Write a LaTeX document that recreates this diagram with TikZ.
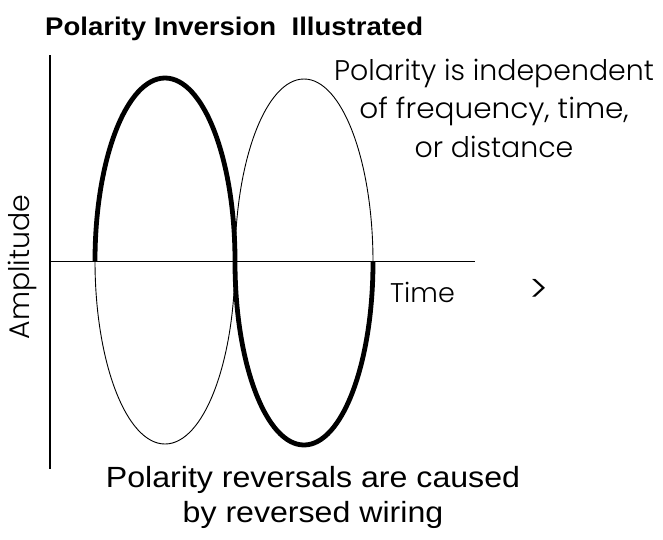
\documentclass[tikz,border=0pt]{standalone}
\usepackage{fontspec}
\setmainfont{Liberation Sans}
\newfontfamily\gothic{Poppins Light}
\newfontfamily\titlefont{Liberation Sans Bold}[FakeStretch=1.08]
\newfontfamily\widesans{Liberation Sans}[FakeStretch=1.1]
\begin{document}
\begin{tikzpicture}[x=1pt,y=-1pt,
  axisline/.style={line width=1.1pt},
  thinwave/.style={line width=0.9pt},
  thickwave/.style={line width=4.8pt},
  lbl/.style={inner sep=0pt, anchor=base},
  gothictext/.style={font=\gothic\fontsize{28.4}{34}\selectfont},
  plaintext/.style={font=\widesans\fontsize{29.2}{35}\selectfont}]
\useasboundingbox (0,0) rectangle (663,539);
\fill[white] (0,0) rectangle (663,539);
% axes
\coordinate (ytop) at (50,55);
\coordinate (ybot) at (50,469);
\coordinate (xleft) at (50,261);
\coordinate (xright) at (475,261);
\draw[axisline] (ytop) -- (ybot);
\draw[axisline, line width=0.9pt] (xleft) -- (xright);
% waves
\draw[thinwave] (165,261) ellipse[x radius=70, y radius=183];
\draw[thinwave] (304,262) ellipse[x radius=69, y radius=183];
\draw[thickwave] (95,261) arc[start angle=180, end angle=360, x radius=70, y radius=183];
\draw[thickwave] (235,262) arc[start angle=180, end angle=0, x radius=69, y radius=183];
% texts
\node[lbl, anchor=base west, font=\titlefont\fontsize{25.5}{30}\selectfont] (title) at (45,35) {Polarity Inversion\ \ Illustrated};
\node[lbl, gothictext] (p1) at (494,80) {Polarity is independent};
\node[lbl, gothictext, xscale=1.04] (p2) at (494,118) {of frequency, time,};
\node[lbl, gothictext] (p3) at (494,157) {or distance};
\node[lbl, gothictext, anchor=base west, font=\gothic\fontsize{27}{32}\selectfont] (time) at (390,302) {Time};
\node[lbl, gothictext, anchor=base west] (arrow) at (529,302) {\scalebox{1.35}{>}};
\node[lbl, gothictext, rotate=90] (amp) at (29,267) {Amplitude};
\node[lbl, plaintext] (b1) at (313,487) {Polarity reversals are caused};
\node[lbl, plaintext] (b2) at (313,522) {by reversed wiring};
\end{tikzpicture}
\end{document}
